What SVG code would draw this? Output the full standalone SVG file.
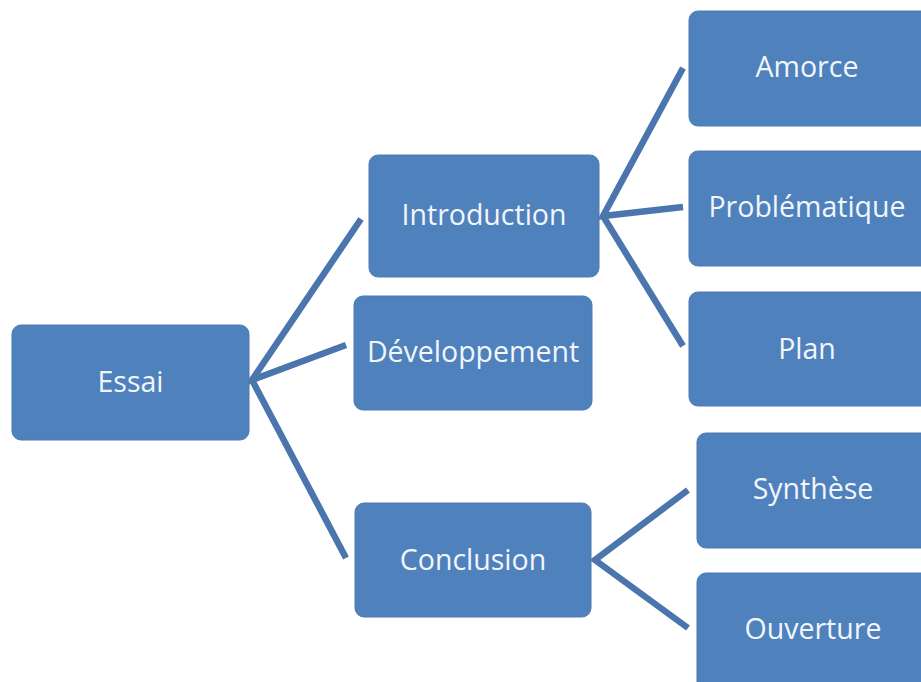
<svg xmlns="http://www.w3.org/2000/svg" width="921" height="682" viewBox="0 0 921 682">
<style>
.box{fill:#4f81bd;stroke:#4a7ab4;stroke-width:1}
.lbl{fill:#f2f6fb;font-family:"Open Sans","Noto Sans",sans-serif;font-size:28.5px;text-anchor:middle;dominant-baseline:central}
.ln{stroke:#4a76ad;stroke-width:6.5;fill:none;stroke-linecap:butt;stroke-linejoin:miter}
</style>
<rect width="921" height="682" fill="#ffffff"/>
<g id="connectors">
<polyline class="ln" points="361,219 252,380 346,345"/>
<line class="ln" x1="252" y1="380" x2="346" y2="558"/>
<polyline class="ln" points="683,68 603,216 683,207"/>
<line class="ln" x1="603" y1="216" x2="683" y2="346"/>
<polyline class="ln" points="688,490 595,560 688,628"/>
</g>
<g id="essai"><rect class="box" x="12" y="325" width="237" height="115" rx="9"/><text class="lbl" x="130.5" y="381">Essai</text></g>
<g id="introduction"><rect class="box" x="369" y="155" width="230" height="122" rx="9"/><text class="lbl" x="484" y="214">Introduction</text></g>
<g id="developpement"><rect class="box" x="354" y="296" width="238" height="114" rx="9"/><text class="lbl" x="473" y="351">Développement</text></g>
<g id="conclusion"><rect class="box" x="355" y="503" width="236" height="114" rx="9"/><text class="lbl" x="473" y="559">Conclusion</text></g>
<g id="amorce"><rect class="box" x="689" y="11" width="250" height="115" rx="9"/><text class="lbl" x="807" y="66">Amorce</text></g>
<g id="problematique"><rect class="box" x="689" y="151" width="250" height="115" rx="9"/><text class="lbl" x="807" y="206">Problématique</text></g>
<g id="plan"><rect class="box" x="689" y="292" width="250" height="114" rx="9"/><text class="lbl" x="807" y="348">Plan</text></g>
<g id="synthese"><rect class="box" x="697" y="433" width="250" height="115" rx="9"/><text class="lbl" x="813" y="488">Synthèse</text></g>
<g id="ouverture"><rect class="box" x="697" y="573" width="250" height="130" rx="9"/><text class="lbl" x="813" y="628">Ouverture</text></g>
</svg>
